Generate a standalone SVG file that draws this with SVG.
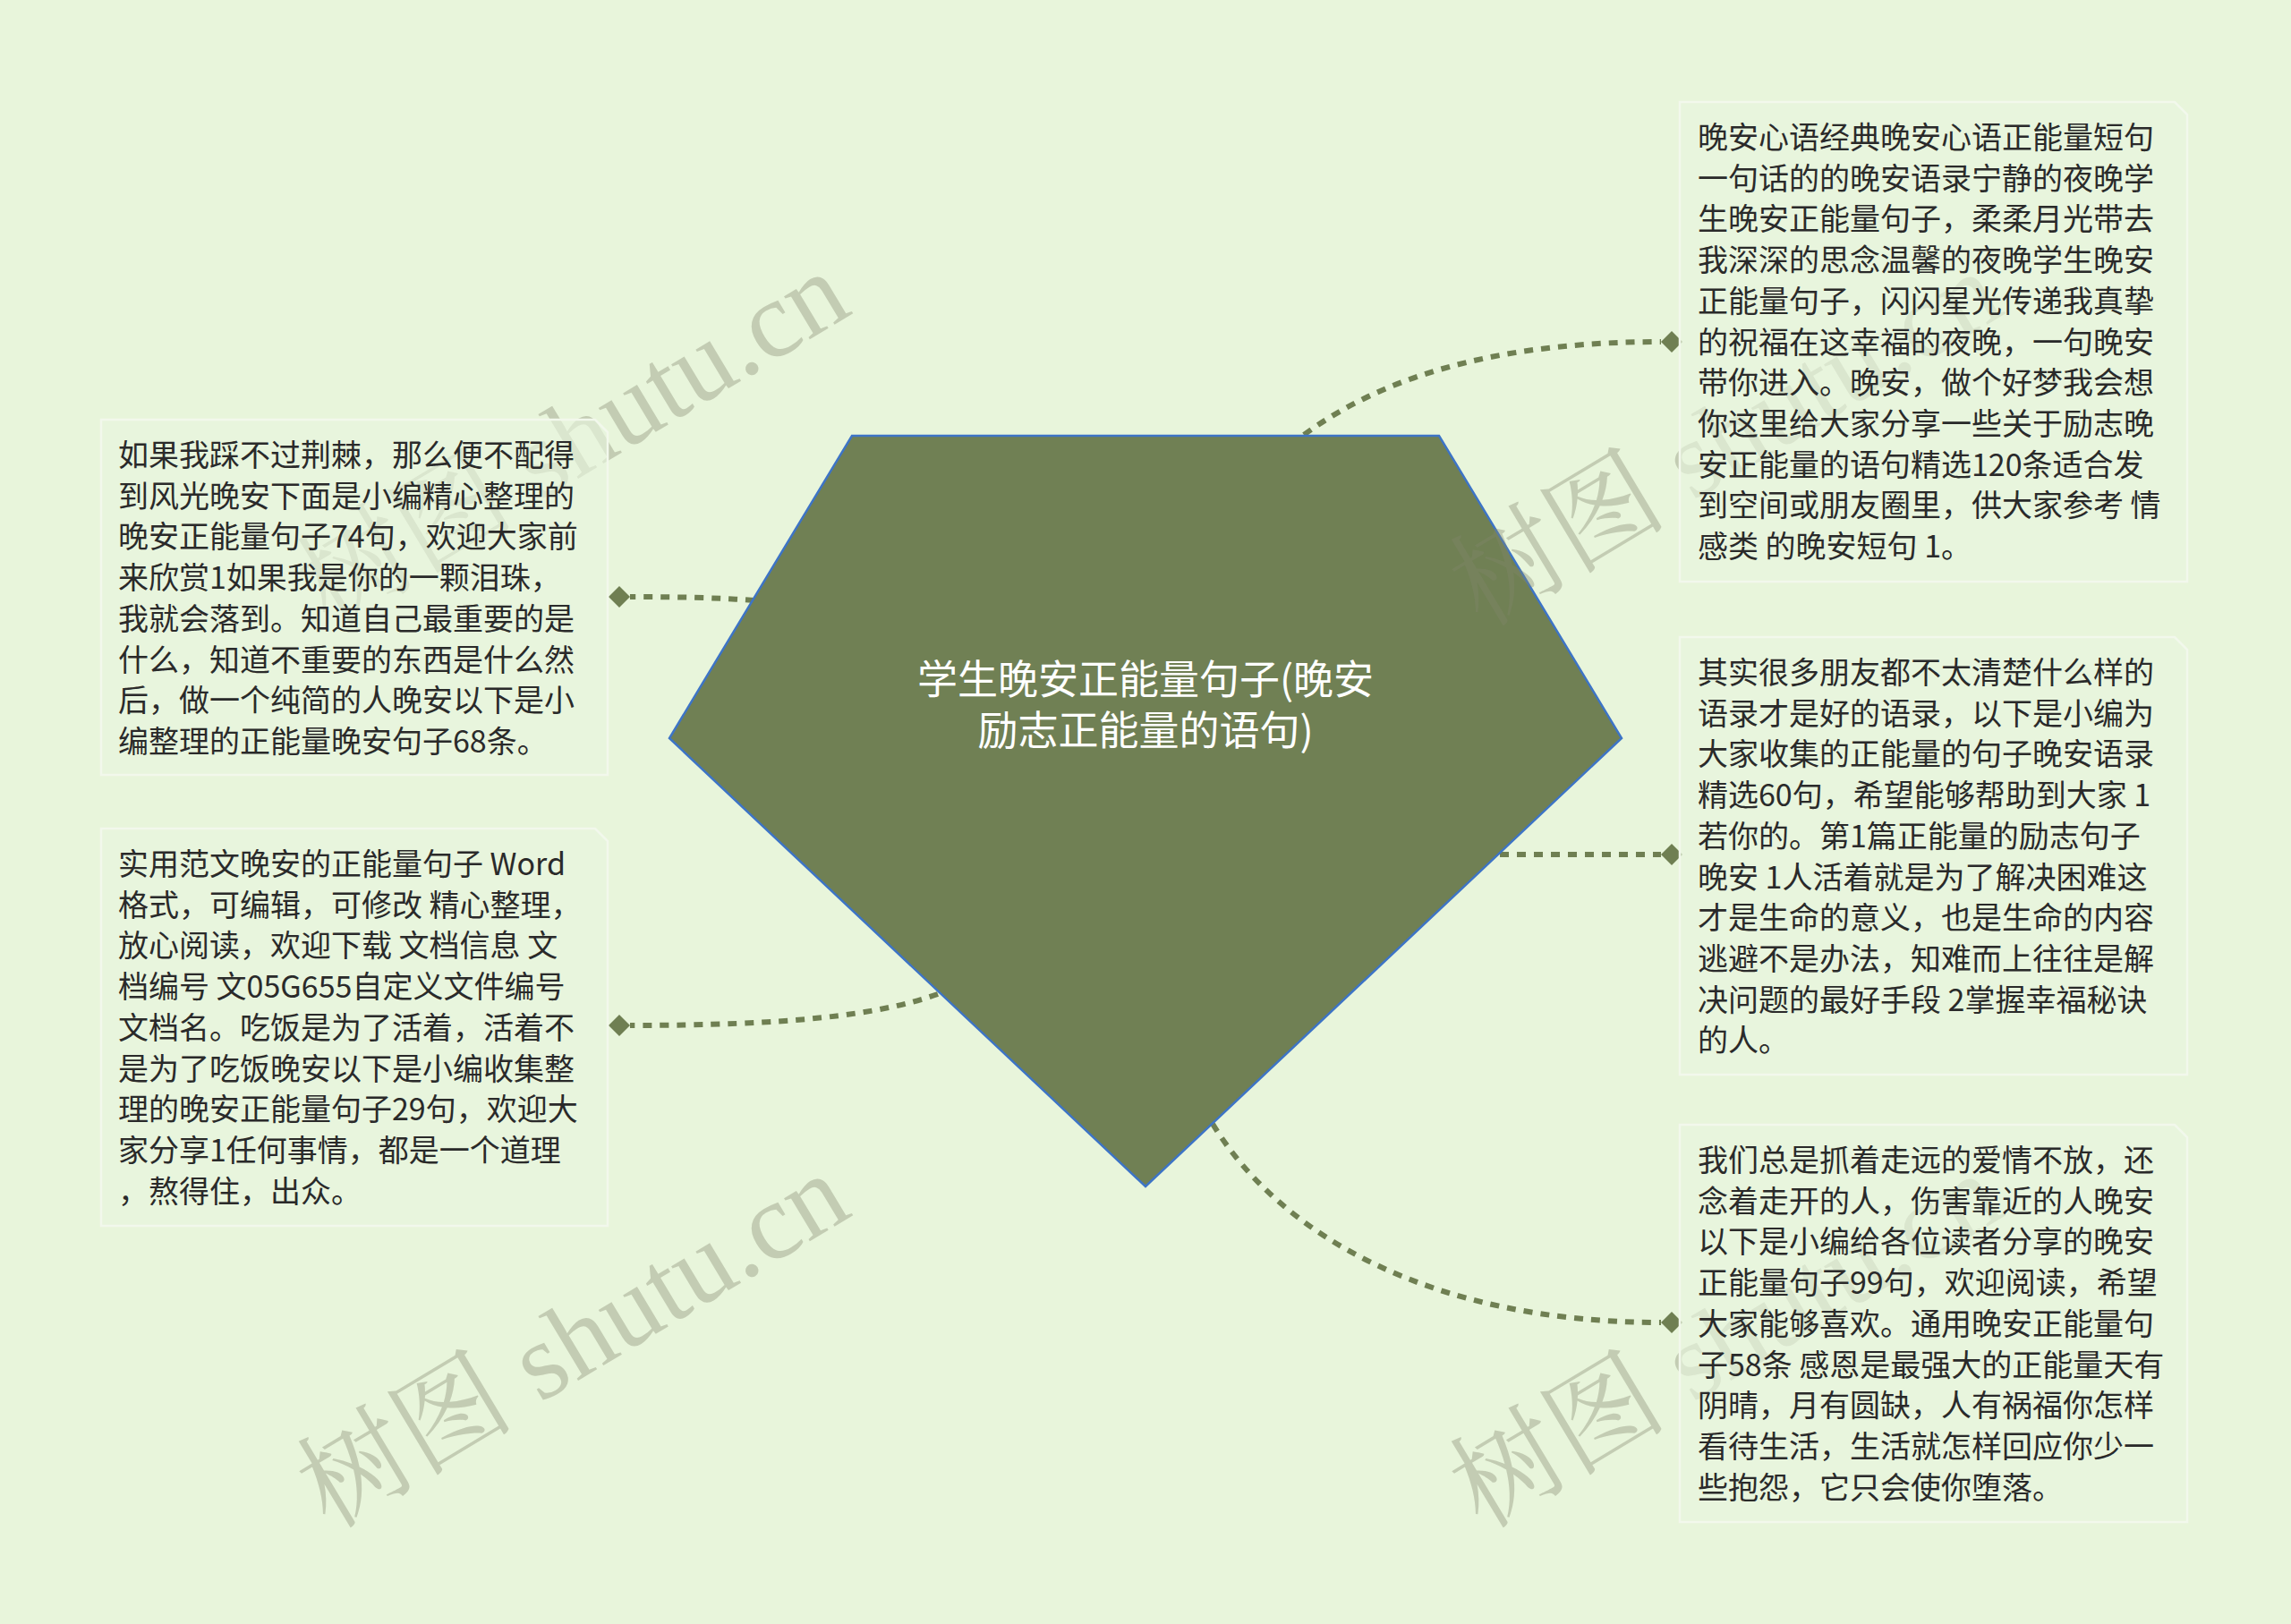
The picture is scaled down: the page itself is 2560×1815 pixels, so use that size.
<svg xmlns="http://www.w3.org/2000/svg" width="2560" height="1815" viewBox="0 0 2560 1815">
<defs>
<style>
.bg{fill:#E8F5DB}
.conn{fill:none;stroke:#6F7F52;stroke-width:6;stroke-dasharray:10 9}
.dot{fill:#6F7F52}
.root{fill:#708054;stroke:#3D74C6;stroke-width:2.5}
.title{font-family:"Noto Sans CJK SC","Liberation Sans",sans-serif;font-size:45px;fill:#FFFFFF;text-anchor:middle}
.box{fill:#E9F5DE;fill-opacity:0.62;stroke:#F2F8EC;stroke-width:2.5}
.txt{font-family:"Noto Sans CJK SC","Liberation Sans",sans-serif;font-size:34px;fill:#2A2A2A}
.wm{font-family:"Liberation Serif","Noto Serif CJK SC","Noto Sans CJK SC",serif;font-size:122px;fill:#81866C;fill-opacity:0.36}
</style>
</defs>
<rect class="bg" x="0" y="0" width="2560" height="1815"/>

<g id="connectors">
<path class="conn" d="M1457,486 C1560,410 1700,382 1856,382"/>
<path class="conn" d="M1676,955 L1856,955"/>
<path class="conn" d="M1355,1256 C1430,1380 1600,1478 1856,1478"/>
<path class="conn" d="M843,671 C800,668 760,667 704,667"/>
<path class="conn" d="M1048,1111 C980,1135 880,1146 704,1146"/>
<polygon class="dot" points="1868,370 1880,382 1868,394 1856,382"/>
<polygon class="dot" points="1868,943 1880,955 1868,967 1856,955"/>
<polygon class="dot" points="1868,1466 1880,1478 1868,1490 1856,1478"/>
<polygon class="dot" points="692,655 704,667 692,679 680,667"/>
<polygon class="dot" points="692,1134 704,1146 692,1158 680,1146"/>
</g>

<g id="root">
<polygon class="root" points="952,487 1608,487 1812,825 1280,1326 748,825"/>
<text class="title" x="1280" y="776"><tspan x="1280" y="776">学生晚安正能量句子(晚安</tspan><tspan x="1280" y="833">励志正能量的语句)</tspan></text>
</g>

<g id="watermarks">
<text class="wm" transform="translate(368,702) rotate(-31)">树图 shutu.cn</text>
<text class="wm" transform="translate(1656,702) rotate(-31)">树图 shutu.cn</text>
<text class="wm" transform="translate(368,1710) rotate(-31)">树图 shutu.cn</text>
<text class="wm" transform="translate(1656,1710) rotate(-31)">树图 shutu.cn</text>
</g>

<g id="node-r1">
<path class="box" d="M1877,114 H2430 L2444,128 V650 H1877 Z"/>
<text class="txt" x="1897" y="166">
<tspan x="1897" dy="0">晚安心语经典晚安心语正能量短句</tspan>
<tspan x="1897" dy="45.7">一句话的的晚安语录宁静的夜晚学</tspan>
<tspan x="1897" dy="45.7">生晚安正能量句子，柔柔月光带去</tspan>
<tspan x="1897" dy="45.7">我深深的思念温馨的夜晚学生晚安</tspan>
<tspan x="1897" dy="45.7">正能量句子，闪闪星光传递我真挚</tspan>
<tspan x="1897" dy="45.7">的祝福在这幸福的夜晚，一句晚安</tspan>
<tspan x="1897" dy="45.7">带你进入。晚安，做个好梦我会想</tspan>
<tspan x="1897" dy="45.7">你这里给大家分享一些关于励志晚</tspan>
<tspan x="1897" dy="45.7">安正能量的语句精选120条适合发</tspan>
<tspan x="1897" dy="45.7">到空间或朋友圈里，供大家参考 情</tspan>
<tspan x="1897" dy="45.7">感类 的晚安短句 1。</tspan>
</text>
</g>

<g id="node-r2">
<path class="box" d="M1877,712 H2430 L2444,726 V1201 H1877 Z"/>
<text class="txt" x="1897" y="764">
<tspan x="1897" dy="0">其实很多朋友都不太清楚什么样的</tspan>
<tspan x="1897" dy="45.7">语录才是好的语录，以下是小编为</tspan>
<tspan x="1897" dy="45.7">大家收集的正能量的句子晚安语录</tspan>
<tspan x="1897" dy="45.7">精选60句，希望能够帮助到大家 1</tspan>
<tspan x="1897" dy="45.7">若你的。第1篇正能量的励志句子</tspan>
<tspan x="1897" dy="45.7">晚安 1人活着就是为了解决困难这</tspan>
<tspan x="1897" dy="45.7">才是生命的意义，也是生命的内容</tspan>
<tspan x="1897" dy="45.7">逃避不是办法，知难而上往往是解</tspan>
<tspan x="1897" dy="45.7">决问题的最好手段 2掌握幸福秘诀</tspan>
<tspan x="1897" dy="45.7">的人。</tspan>
</text>
</g>

<g id="node-r3">
<path class="box" d="M1877,1257 H2430 L2444,1271 V1701 H1877 Z"/>
<text class="txt" x="1897" y="1309">
<tspan x="1897" dy="0">我们总是抓着走远的爱情不放，还</tspan>
<tspan x="1897" dy="45.7">念着走开的人，伤害靠近的人晚安</tspan>
<tspan x="1897" dy="45.7">以下是小编给各位读者分享的晚安</tspan>
<tspan x="1897" dy="45.7">正能量句子99句，欢迎阅读，希望</tspan>
<tspan x="1897" dy="45.7">大家能够喜欢。通用晚安正能量句</tspan>
<tspan x="1897" dy="45.7">子58条 感恩是最强大的正能量天有</tspan>
<tspan x="1897" dy="45.7">阴晴，月有圆缺，人有祸福你怎样</tspan>
<tspan x="1897" dy="45.7">看待生活，生活就怎样回应你少一</tspan>
<tspan x="1897" dy="45.7">些抱怨，它只会使你堕落。</tspan>
</text>
</g>

<g id="node-l1">
<path class="box" d="M113,469 H665 L679,483 V866 H113 Z"/>
<text class="txt" x="132" y="521">
<tspan x="132" dy="0">如果我踩不过荆棘，那么便不配得</tspan>
<tspan x="132" dy="45.7">到风光晚安下面是小编精心整理的</tspan>
<tspan x="132" dy="45.7">晚安正能量句子74句，欢迎大家前</tspan>
<tspan x="132" dy="45.7">来欣赏1如果我是你的一颗泪珠，</tspan>
<tspan x="132" dy="45.7">我就会落到。知道自己最重要的是</tspan>
<tspan x="132" dy="45.7">什么，知道不重要的东西是什么然</tspan>
<tspan x="132" dy="45.7">后，做一个纯简的人晚安以下是小</tspan>
<tspan x="132" dy="45.7">编整理的正能量晚安句子68条。</tspan>
</text>
</g>

<g id="node-l2">
<path class="box" d="M113,926 H665 L679,940 V1370 H113 Z"/>
<text class="txt" x="132" y="978">
<tspan x="132" dy="0">实用范文晚安的正能量句子 Word</tspan>
<tspan x="132" dy="45.7">格式，可编辑，可修改 精心整理，</tspan>
<tspan x="132" dy="45.7">放心阅读，欢迎下载 文档信息 文</tspan>
<tspan x="132" dy="45.7">档编号 文05G655自定义文件编号</tspan>
<tspan x="132" dy="45.7">文档名。吃饭是为了活着，活着不</tspan>
<tspan x="132" dy="45.7">是为了吃饭晚安以下是小编收集整</tspan>
<tspan x="132" dy="45.7">理的晚安正能量句子29句，欢迎大</tspan>
<tspan x="132" dy="45.7">家分享1任何事情，都是一个道理</tspan>
<tspan x="132" dy="45.7">，熬得住，出众。</tspan>
</text>
</g>
</svg>
